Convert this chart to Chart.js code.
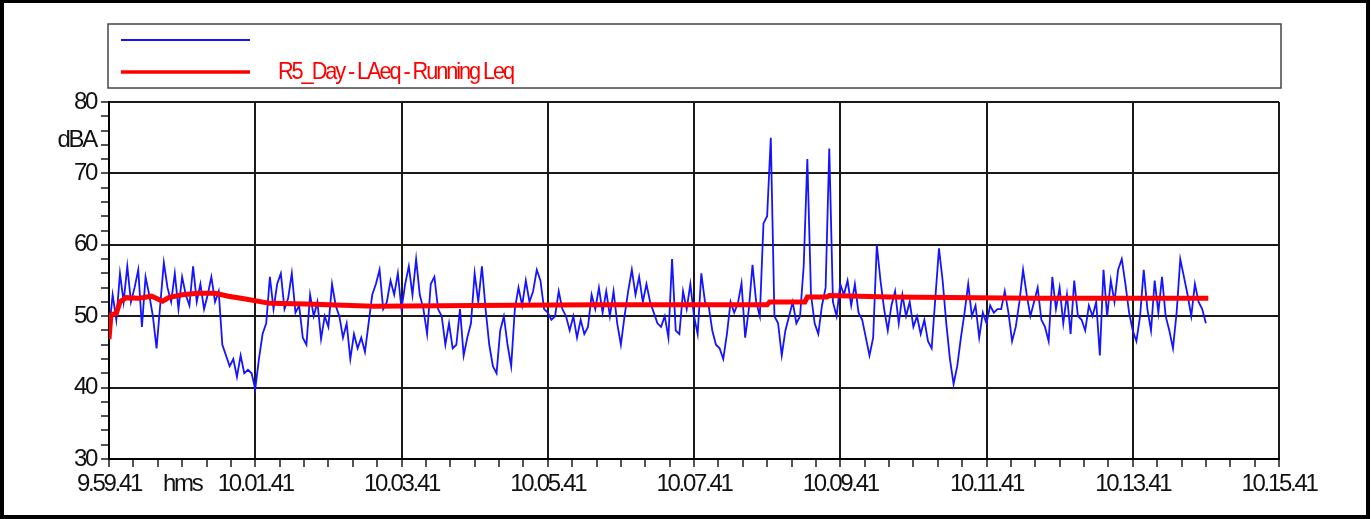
<!DOCTYPE html>
<html>
<head>
<meta charset="utf-8">
<script src="https://cdn.jsdelivr.net/npm/chart.js@4/dist/chart.umd.min.js"></script>
<style>
  html, body { margin: 0; padding: 0; background: #fff; overflow: hidden; }
  canvas { display: block; }
</style>
</head>
<body>
<canvas id="grafico" width="1372" height="519"></canvas>
<script>
// time axis: seconds after 9.59.41
const inicio = [9, 59, 41];
const passo = 3; // seconds between level samples

// LAeq 1 s levels (read every 3 s), dBA
const nivel = [
  48, 53, 49.5, 56, 52, 57, 52, 54, 56.5, 48.5, 55.5, 53, 50, 45.5, 51.5, 57.5, 54, 52, 56, 51,
  55.5, 53, 51.5, 57, 52, 54.5, 51, 53, 55.5, 52, 53.5, 46, 44.5, 43, 44, 41.5, 44.5, 42,
  42.5, 42, 39.8, 44, 47.5, 49, 55.5, 51, 54.5, 56, 51, 52.5, 56, 50.5, 51.5, 47, 46, 53, 50, 52,
  46.8, 50, 48.5, 54.5, 51.5, 50, 47, 49, 44, 47.5, 45.5, 47, 45, 49, 53, 54.5, 56.5,
  51, 52, 55, 53, 56, 51, 54.5, 57, 53, 58, 53, 51, 47.5, 54.5, 55.5, 51, 50, 46, 49, 45.5,
  46, 51, 44.5, 47, 49, 56, 52, 57, 51, 46, 43, 42, 48, 50, 46, 43, 51,
  54, 51.5, 55, 52, 53.5, 56.5, 55, 51, 50.5, 49.5, 50, 53.5, 51, 50, 48, 50, 47, 49.5, 47.5, 48.5,
  53, 51, 54, 50.5, 53.5, 50, 53.5, 49, 46, 50, 53.5, 56.5, 53, 55.5, 52, 54.5, 52,
  50.5, 49, 48.5, 50, 47, 58, 48, 47.5, 53.5, 51, 54.5, 50, 47.5, 56, 52, 51.5, 48, 46, 45.5, 44,
  47.5, 52,
  50.5, 51.8, 54.6, 47, 51, 57.2, 52, 50, 63, 64, 75, 50, 49, 44.5, 48, 50, 52, 49, 50, 57,
  72, 53, 49, 47.5, 51.5, 54, 73.5, 52, 50, 54.5, 53, 55, 51.5, 54.5, 50.5, 49.5, 47, 44.5,
  47, 60, 55, 51, 48, 51.5, 53.5, 49, 53, 50, 52, 48.5, 50, 47.5, 49.5, 46.5, 45.5, 52.5, 59.5, 55,
  49, 44, 40.5, 43, 47, 50.5, 54.5, 50, 51.5, 47, 50.5, 49, 51.5, 50.5, 51,
  51, 53.5, 50.5, 46.5, 48.5, 52, 56.5, 53, 50, 52, 54, 49.5, 48.5, 46.5, 55.5, 51, 54, 49, 53, 47.5,
  55, 50, 49.5, 48, 51.5, 50, 52, 44.5, 56.5, 50, 55, 52, 56.5, 58, 54.5, 50.5, 48,
  46.5, 50, 56.5, 51, 48, 55, 50.5, 55.5, 50, 48, 45.5, 50.5, 58, 55.5, 53, 50, 54.5, 52, 51, 49
];

// running Leq
const leq_tempo = [0, 1.6, 6, 9, 14, 24, 35, 44, 49, 60, 73, 87, 98, 112, 132, 162, 217, 300, 400, 540, 542, 571, 573, 589, 591, 640, 760, 902];
const leq_valor = [46.8, 50.2, 50.4, 52, 52.6, 52.5, 52.8, 52.1, 52.6, 53.0, 53.2, 53.2, 52.8, 52.4, 51.8, 51.7, 51.4, 51.5, 51.6, 51.6, 52.0, 52.0, 52.7, 52.7, 52.9, 52.7, 52.5, 52.5];

const rotulo_serie = ["", "R5_Day - LAeq - Running Leq"];
const eixo_x = { min: 0, max: 960, menor: 20, maior: 120, titulo: "hms", pos_titulo: 60 };
const eixo_y = { min: 30, max: 80, menor: 2, maior: 10, titulo: "dBA", pos_titulo: 74.6 };

const fonte = { family: "'Liberation Sans', Arial, sans-serif", size: 24 };
const espacamento = "-2.3px";
const largura_legenda = 235; // px width of the legend label

function hora(seg) {
  let total = inicio[0] * 3600 + inicio[1] * 60 + inicio[2] + seg;
  const h = Math.floor(total / 3600);
  const m = Math.floor((total % 3600) / 60);
  const s = total % 60;
  return h + "." + String(m).padStart(2, "0") + "." + String(s).padStart(2, "0");
}

const pontos_nivel = nivel.map((v, i) => ({ x: i * passo, y: v }));
const pontos_leq = leq_tempo.map((t, i) => ({ x: t, y: leq_valor[i] }));

// letter spacing for the condensed look + legend box + frame
const estilo = {
  id: "estilo",
  beforeUpdate(chart) { chart.ctx.letterSpacing = espacamento; },
  beforeDraw(chart) { chart.ctx.letterSpacing = espacamento; },
  afterDraw(chart) {
    const ctx = chart.ctx;
    ctx.save();
    ctx.strokeStyle = "#444";
    ctx.lineWidth = 1.5;
    ctx.strokeRect(108, 24, 1173, 64);
    chart.data.datasets.forEach((ds, i) => {
      const y = 40 + i * 32;
      ctx.strokeStyle = ds.borderColor;
      ctx.lineWidth = i == 0 ? 2.2 : 3.5;
      ctx.beginPath();
      ctx.moveTo(121, y);
      ctx.lineTo(250, y);
      ctx.stroke();
      if (ds.label) {
        ctx.save();
        ctx.fillStyle = ds.borderColor;
        ctx.font = fonte.size + "px " + fonte.family;
        ctx.textBaseline = "middle";
        ctx.letterSpacing = espacamento;
        const w = ctx.measureText(ds.label).width;
        ctx.translate(278, y);
        ctx.scale(largura_legenda / w, 1);
        ctx.fillText(ds.label, 0, 0);
        ctx.restore();
      }
    });
    ctx.strokeStyle = "#000";
    ctx.lineWidth = 4;
    ctx.strokeRect(2, 1, 1366, 516);
    ctx.restore();
  }
};

const grafico = new Chart(document.getElementById("grafico"), {
  type: "line",
  data: {
    datasets: [
      {
        label: rotulo_serie[0],
        data: pontos_nivel,
        borderColor: "rgb(20,20,255)",
        borderWidth: 1.8,
        pointRadius: 0,
        tension: 0,
        order: 2
      },
      {
        label: rotulo_serie[1],
        data: pontos_leq,
        borderColor: "rgb(255,0,0)",
        borderWidth: 5,
        pointRadius: 0,
        tension: 0,
        order: 1
      }
    ]
  },
  options: {
    responsive: false,
    animation: false,
    devicePixelRatio: 1,
    layout: { padding: { left: 0, top: 102, right: 93, bottom: 0 } },
    plugins: { legend: { display: false }, tooltip: { enabled: false } },
    scales: {
      x: {
        type: "linear",
        min: eixo_x.min,
        max: eixo_x.max,
        afterBuildTicks(scale) {
          const t = [];
          for (let v = eixo_x.min; v <= eixo_x.max; v += eixo_x.menor) t.push({ value: v });
          scale.ticks = t;
        },
        afterFit(scale) { scale.height = 60; },
        border: { display: true, color: "#000", width: 2 },
        grid: {
          color: (c) => (c.tick && c.tick.value % eixo_x.maior === 0 ? "#1a1a1a" : "rgba(0,0,0,0)"),
          tickColor: "#1a1a1a",
          lineWidth: 2,
          tickWidth: 1.5,
          tickLength: 8
        },
        ticks: {
          autoSkip: false,
          maxRotation: 0,
          padding: 3,
          color: "#111",
          font: fonte,
          callback: (v) => {
            if (v % eixo_x.maior === 0) return hora(v);
            if (v === eixo_x.pos_titulo) return eixo_x.titulo;
            return "";
          }
        }
      },
      y: {
        type: "linear",
        min: eixo_y.min,
        max: eixo_y.max,
        afterBuildTicks(scale) {
          const t = [];
          for (let v = eixo_y.min; v <= eixo_y.max; v += eixo_y.menor) t.push({ value: v });
          t.push({ value: eixo_y.pos_titulo });
          scale.ticks = t;
        },
        afterFit(scale) { scale.width = 109; },
        border: { display: true, color: "#000", width: 2 },
        grid: {
          color: (c) => (c.tick && c.tick.value % eixo_y.maior === 0 ? "#1a1a1a" : "rgba(0,0,0,0)"),
          tickColor: (c) => (c.tick && c.tick.value === eixo_y.pos_titulo ? "rgba(0,0,0,0)" : "#1a1a1a"),
          lineWidth: 2,
          tickWidth: 1.5,
          tickLength: 8
        },
        ticks: {
          autoSkip: false,
          padding: 5,
          color: "#111",
          font: fonte,
          callback: (v) => {
            if (v === eixo_y.pos_titulo) return eixo_y.titulo;
            if (v % eixo_y.maior === 0) return String(v);
            return "";
          }
        }
      }
    }
  },
  plugins: [estilo]
});
</script>
</body>
</html>
